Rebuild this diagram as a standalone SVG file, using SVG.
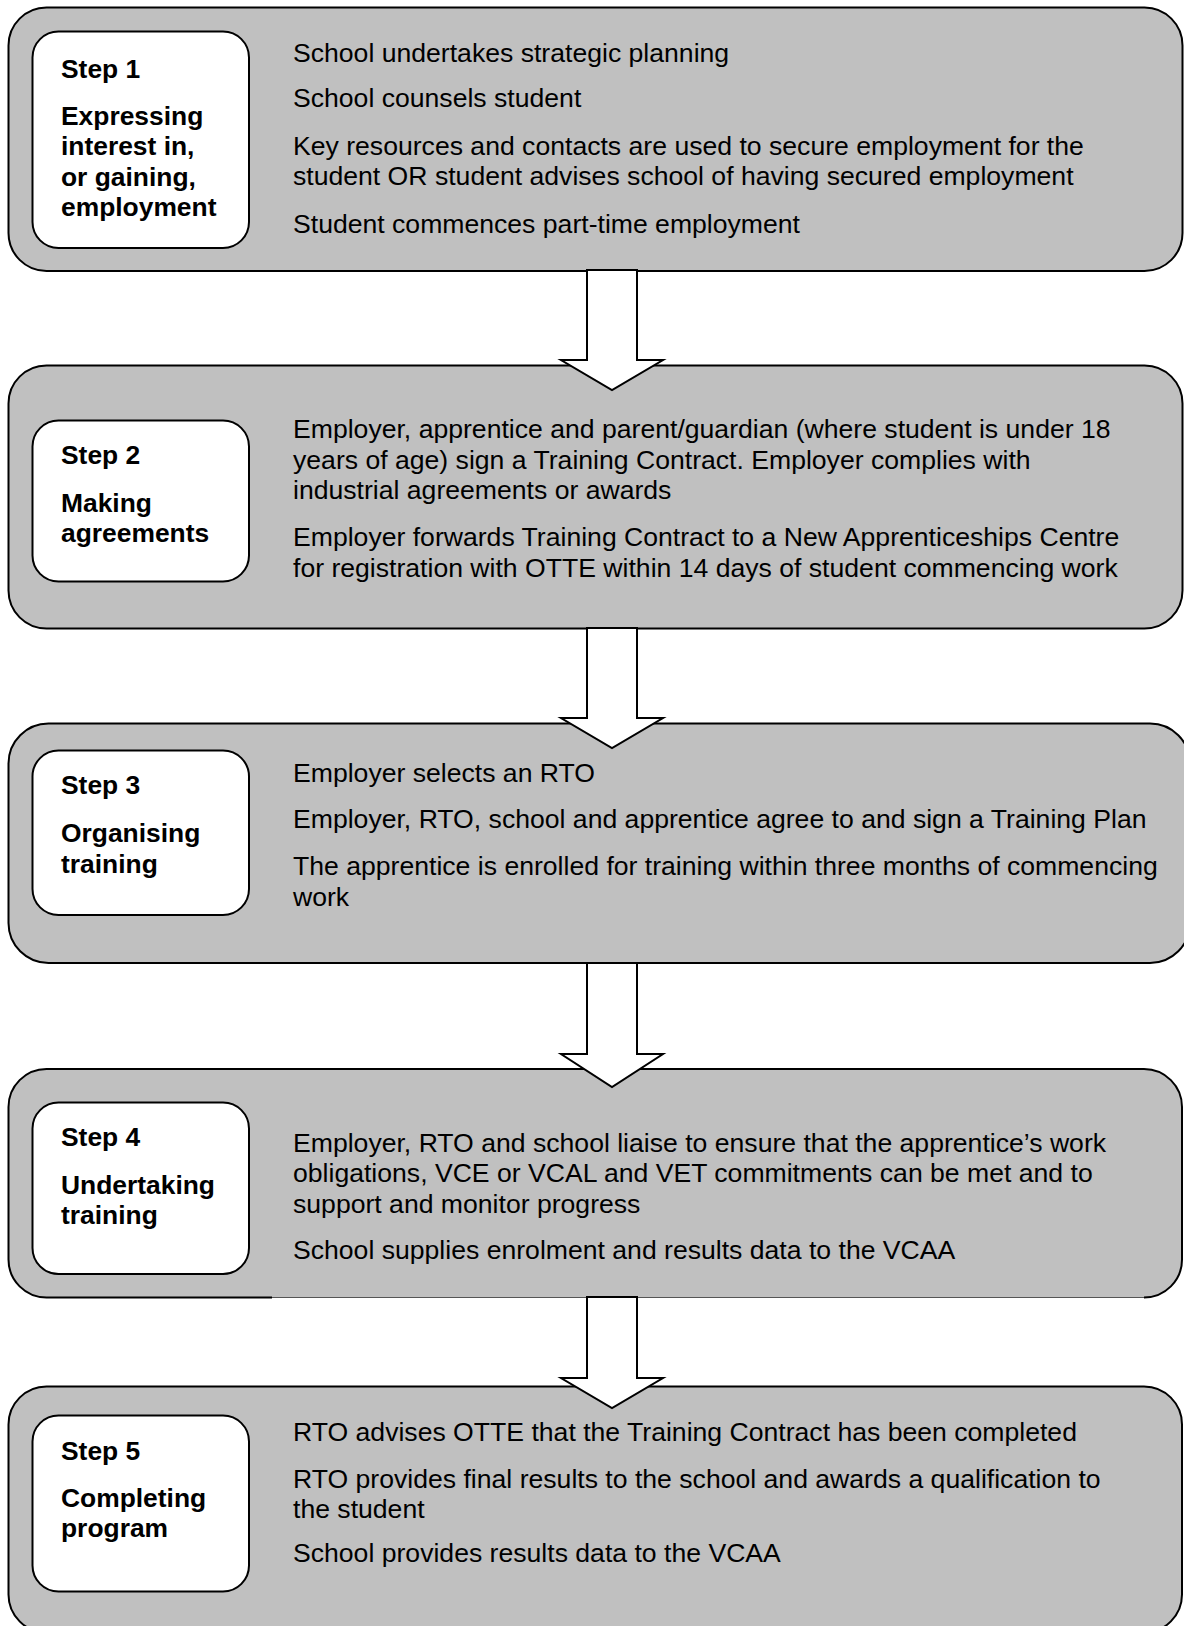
<svg xmlns="http://www.w3.org/2000/svg" width="1184" height="1626" viewBox="0 0 1184 1626">
<style>
.outer{fill:#c0c0c0;stroke:#000;stroke-width:2}
.outerfill{fill:#c0c0c0;stroke:none}
.edge{fill:none;stroke:#000;stroke-width:2}
.inner{fill:#fff;stroke:#000;stroke-width:2}
.arrow{fill:#fff;stroke:#000;stroke-width:2;stroke-linejoin:miter}
.t{font-family:"Liberation Sans",Arial,sans-serif;font-size:26.6px;fill:#000}
.b{font-family:"Liberation Sans",Arial,sans-serif;font-size:26.4px;font-weight:bold;fill:#000}
</style>
<rect width="1184" height="1626" fill="#fff"/>

<g id="step1">
<rect class="outer" x="8.5" y="7.5" width="1174" height="263.5" rx="38" ry="38"/>
<rect class="inner" x="32.5" y="31.5" width="216.5" height="216.5" rx="26" ry="26"/>
<text class="b"><tspan x="61" y="78">Step 1</tspan><tspan x="61" y="124.5">Expressing</tspan><tspan x="61" y="155">interest in,</tspan><tspan x="61" y="185.5">or gaining,</tspan><tspan x="61" y="216">employment</tspan></text>
<text class="t"><tspan x="293" y="62">School undertakes strategic planning</tspan><tspan x="293" y="107">School counsels student</tspan><tspan x="293" y="155">Key resources and contacts are used to secure employment for the</tspan><tspan x="293" y="185">student OR student advises school of having secured employment</tspan><tspan x="293" y="233">Student commences part-time employment</tspan></text>
</g>

<g id="step2">
<rect class="outer" x="8.5" y="365.5" width="1174" height="263" rx="38" ry="38"/>
<rect class="inner" x="32.5" y="420.5" width="216.5" height="161" rx="26" ry="26"/>
<text class="b"><tspan x="61" y="464">Step 2</tspan><tspan x="61" y="511.7">Making</tspan><tspan x="61" y="541.7">agreements</tspan></text>
<text class="t"><tspan x="293" y="438">Employer, apprentice and parent/guardian (where student is under 18</tspan><tspan x="293" y="468.5">years of age) sign a Training Contract. Employer complies with</tspan><tspan x="293" y="498.5">industrial agreements or awards</tspan><tspan x="293" y="546">Employer forwards Training Contract to a New Apprenticeships Centre</tspan><tspan x="293" y="576.5">for registration with OTTE within 14 days of student commencing work</tspan></text>
</g>

<g id="step3">
<rect class="outer" x="8.5" y="723.5" width="1181.5" height="239.5" rx="40" ry="40"/>
<rect class="inner" x="32.5" y="750.5" width="216.5" height="164.5" rx="26" ry="26"/>
<text class="b"><tspan x="61" y="794.3">Step 3</tspan><tspan x="61" y="841.7">Organising</tspan><tspan x="61" y="872.7">training</tspan></text>
<text class="t"><tspan x="293" y="781.7">Employer selects an RTO</tspan><tspan x="293" y="828.3">Employer, RTO, school and apprentice agree to and sign a Training Plan</tspan><tspan x="293" y="875">The apprentice is enrolled for training within three months of commencing</tspan><tspan x="293" y="906">work</tspan></text>
</g>

<g id="step4">
<rect class="outerfill" x="8.5" y="1069" width="1173.5" height="228.5" rx="38" ry="38"/>
<path class="edge" d="M272,1297.5 H46.5 A38,38 0 0 1 8.5,1259.5 V1107 A38,38 0 0 1 46.5,1069 H1144 A38,38 0 0 1 1182,1107 V1259.5 A38,38 0 0 1 1144,1297.5"/>
<line x1="272" y1="1297.5" x2="1144" y2="1297.5" stroke="#555" stroke-width="1"/>
<rect class="inner" x="32.5" y="1102.5" width="216.5" height="171.5" rx="26" ry="26"/>
<text class="b"><tspan x="61" y="1146">Step 4</tspan><tspan x="61" y="1194.3">Undertaking</tspan><tspan x="61" y="1224.3">training</tspan></text>
<text class="t"><tspan x="293" y="1151.7">Employer, RTO and school liaise to ensure that the apprentice’s work</tspan><tspan x="293" y="1181.7">obligations, VCE or VCAL and VET commitments can be met and to</tspan><tspan x="293" y="1212.7">support and monitor progress</tspan><tspan x="293" y="1259.3">School supplies enrolment and results data to the VCAA</tspan></text>
</g>

<g id="step5">
<rect class="outer" x="8.5" y="1386.5" width="1173.5" height="246" rx="38" ry="38"/>
<rect class="inner" x="32.5" y="1415.5" width="216.5" height="176" rx="26" ry="26"/>
<text class="b"><tspan x="61" y="1459.5">Step 5</tspan><tspan x="61" y="1506.5">Completing</tspan><tspan x="61" y="1536.5">program</tspan></text>
<text class="t"><tspan x="293" y="1441">RTO advises OTTE that the Training Contract has been completed</tspan><tspan x="293" y="1488">RTO provides final results to the school and awards a qualification to</tspan><tspan x="293" y="1518">the student</tspan><tspan x="293" y="1562">School provides results data to the VCAA</tspan></text>
</g>

<g id="connectors">
<path class="arrow" d="M587,270 H637 V360 H663 L612,390 L561,360 H587 Z"/>
<path class="arrow" d="M587,628 H637 V718 H663 L612,748 L561,718 H587 Z"/>
<path class="arrow" d="M587,963 H637 V1054 H663 L612,1087 L561,1054 H587 Z"/>
<path class="arrow" d="M587,1297 H637 V1378 H663 L612,1408 L561,1378 H587 Z"/>
</g>
</svg>
